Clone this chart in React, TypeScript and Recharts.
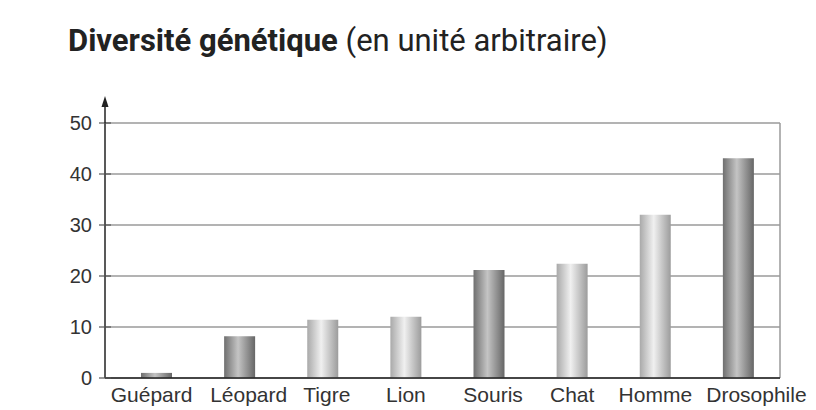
import { BarChart, Bar, XAxis, YAxis, CartesianGrid, Cell } from "recharts";

const especes = ["Guépard", "Léopard", "Tigre", "Lion", "Souris", "Chat", "Homme", "Drosophile"];
const diversite = [1, 8.2, 11.4, 12, 21.2, 22.4, 32, 43.1];
// dark = cylindre foncé, light = cylindre clair
const teintes = ["dark", "dark", "light", "light", "dark", "light", "light", "dark"];
const yTicks = [0, 10, 20, 30, 40, 50];

const data = especes.map((nom, i) => ({ nom, valeur: diversite[i], teinte: teintes[i] }));

const labelFont = "'Liberation Sans', Arial, sans-serif";

const Y_TICK_SIZE = 6;
const Y_TICK_MARGIN = 7;

// tick de l'axe Y; sur la graduation du haut on ajoute la flèche
const YTick = ({ x, y, payload }: any) => {
  const axisX = x + Y_TICK_SIZE + Y_TICK_MARGIN;
  const isTop = payload.value === yTicks[yTicks.length - 1];
  return (
    <g>
      <line x1={axisX - 6} y1={y} x2={axisX + 6} y2={y} stroke="#555" strokeWidth={1.2} />
      <text
        x={x}
        y={y}
        dy="0.35em"
        textAnchor="end"
        fill="#333"
        fontSize={20}
        fontFamily={labelFont}
      >
        {payload.value}
      </text>
      {isTop && (
        <g>
          <line x1={axisX} y1={y} x2={axisX} y2={y - 20} stroke="#222" strokeWidth={1.5} />
          <polygon
            points={`${axisX - 3.5},${y - 16} ${axisX + 3.5},${y - 16} ${axisX},${y - 27}`}
            fill="#222"
          />
        </g>
      )}
    </g>
  );
};

// petits décalages des libellés comme dans l'original (le dernier déborde à droite)
const labelShift: Record<string, number> = { Guépard: -5, Léopard: 9, Tigre: 4, Souris: 4, Drosophile: 18 };

const XTick = ({ x, y, payload }: any) => (
  <text
    x={x}
    y={y}
    dy="0.71em"
    dx={labelShift[payload.value] || 0}
    textAnchor="middle"
    fill="#333"
    fontSize={21}
    fontFamily={labelFont}
  >
    {payload.value}
  </text>
);

export default function App() {
  return (
    <div style={{ position: "absolute", left: 0, top: 0, width: 816, height: 410, background: "#fff" }}>
      <div
        style={{
          position: "absolute",
          left: 68,
          top: 22,
          fontFamily: "Roboto, 'Open Sans', sans-serif",
          fontSize: 31,
          color: "#222",
          whiteSpace: "nowrap",
        }}
      >
        <span style={{ fontWeight: 700 }}>Diversité génétique</span> (en unité arbitraire)
      </div>
      <BarChart
        width={816}
        height={410}
        data={data}
        margin={{ top: 123, right: 36, bottom: 0, left: 0 }}
        barSize={31}
      >
        <defs>
          <linearGradient id="cylDark" x1="0" y1="0" x2="1" y2="0">
            <stop offset="0%" stopColor="#6f6f6f" />
            <stop offset="45%" stopColor="#c4c4c4" />
            <stop offset="100%" stopColor="#666" />
          </linearGradient>
          <linearGradient id="cylLight" x1="0" y1="0" x2="1" y2="0">
            <stop offset="0%" stopColor="#a9a9a9" />
            <stop offset="45%" stopColor="#f0f0f0" />
            <stop offset="100%" stopColor="#9c9c9c" />
          </linearGradient>
        </defs>
        <CartesianGrid
          stroke="#9a9a9a"
          strokeWidth={1.5}
          vertical={true}
          verticalCoordinatesGenerator={({ offset }: any) => [offset.left + offset.width]}
        />
        <XAxis
          dataKey="nom"
          height={32}
          padding={{ left: 10, right: 0 }}
          tickLine={false}
          tickMargin={3}
          axisLine={{ stroke: "#222", strokeWidth: 1.5 }}
          tick={<XTick />}
          interval={0}
        />
        <YAxis
          width={105}
          domain={[0, 50]}
          ticks={yTicks}
          tickSize={Y_TICK_SIZE}
          tickMargin={Y_TICK_MARGIN}
          tickLine={false}
          axisLine={{ stroke: "#222", strokeWidth: 1.5 }}
          tick={<YTick />}
        />
        <Bar dataKey="valeur" isAnimationActive={false}>
          {data.map((d) => (
            <Cell key={d.nom} fill={d.teinte === "dark" ? "url(#cylDark)" : "url(#cylLight)"} />
          ))}
        </Bar>
      </BarChart>
    </div>
  );
}
